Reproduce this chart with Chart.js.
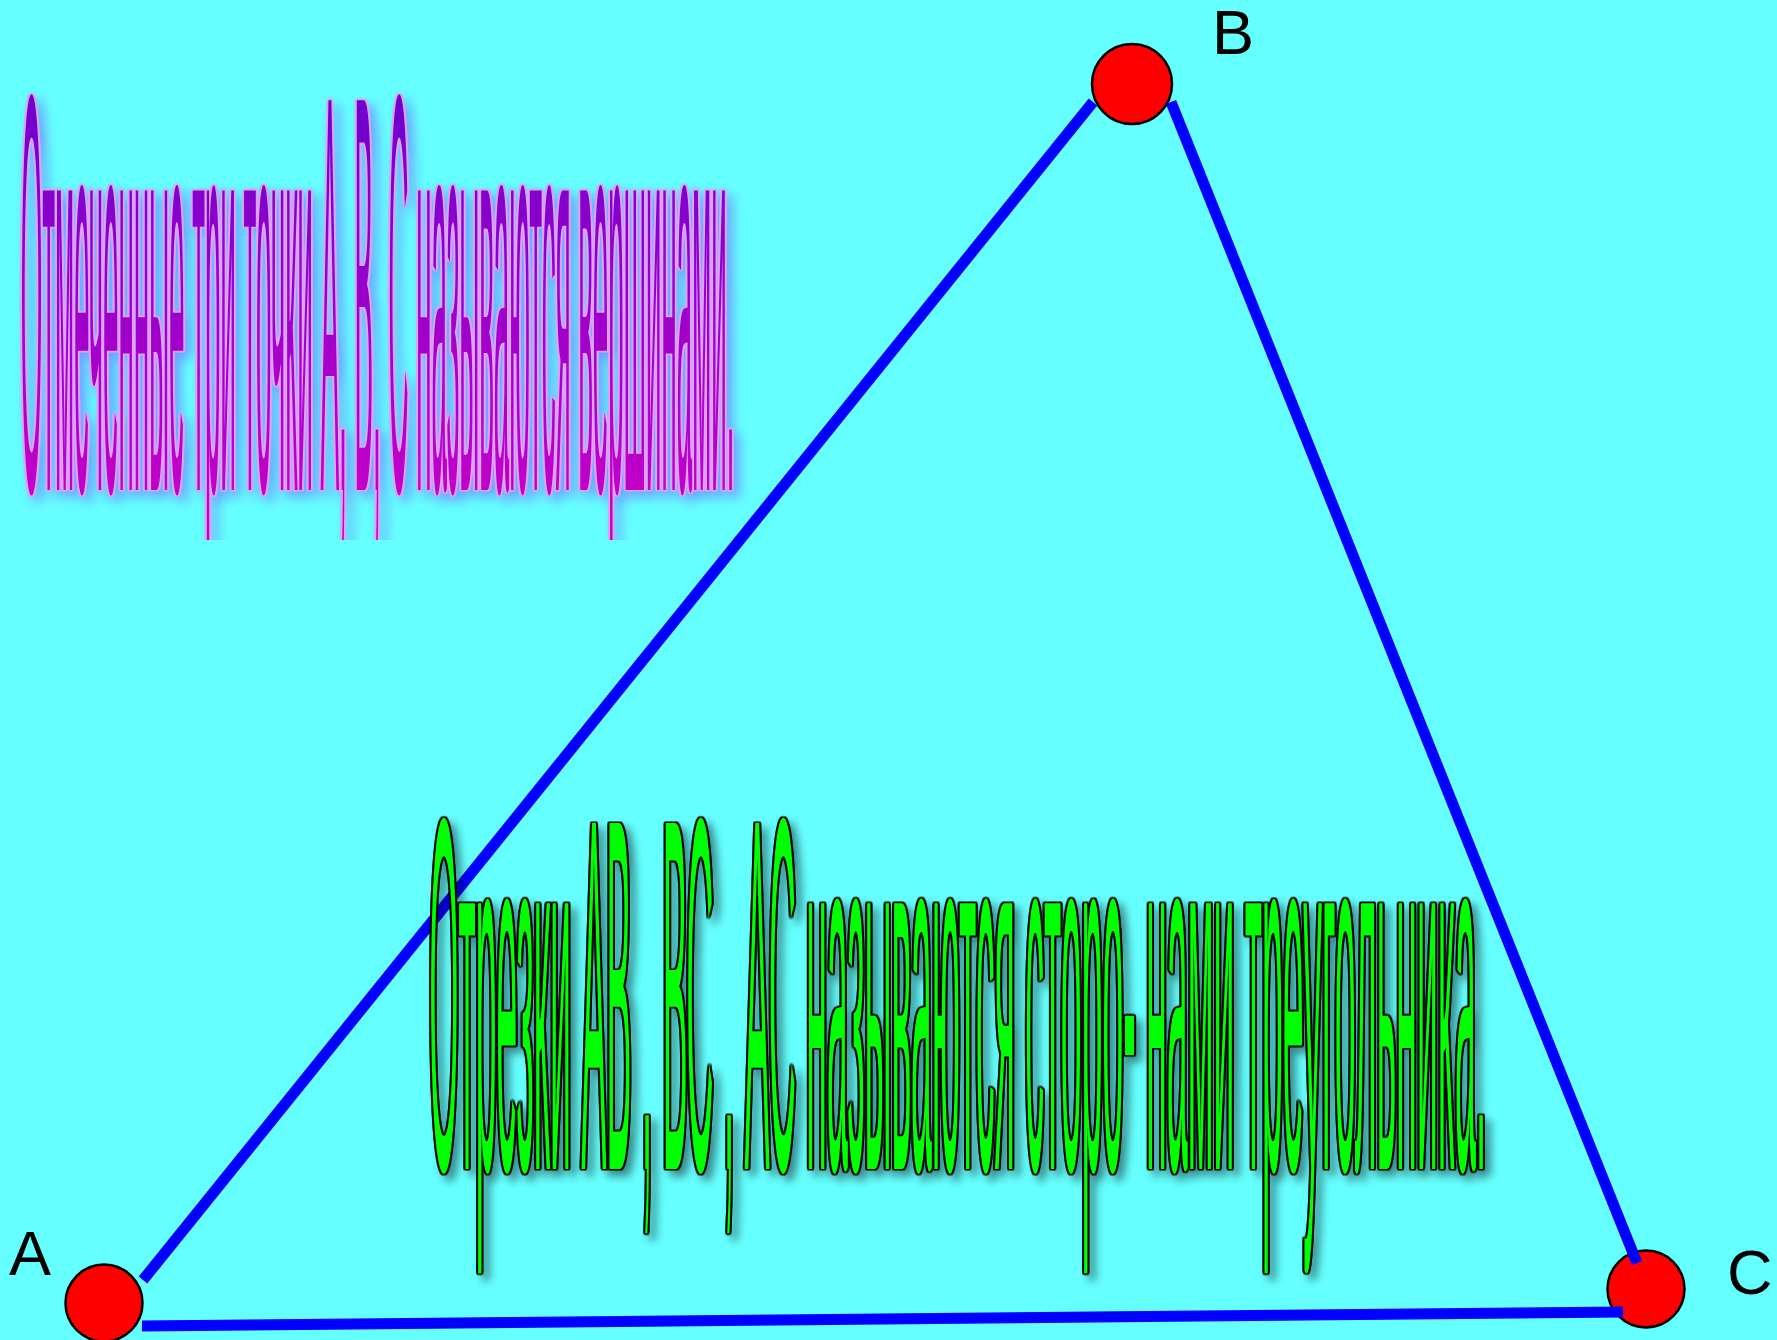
<!DOCTYPE html>
<html><head><meta charset="utf-8">
<script src="https://cdn.jsdelivr.net/npm/chart.js@4.4.1/dist/chart.umd.min.js"></script>
<style>
html,body{margin:0;padding:0;background:#66FFFF;overflow:hidden}
#wrap{width:1777px;height:1340px;position:relative}
</style>
</head><body><div id="wrap"><canvas id="c"></canvas></div>
<script>
// ---- data ----
const vertexNames = ['A', 'B', 'C'];
const vertexX = [104, 1132, 1646];
const vertexY = [1303, 84, 1289];
const sideNames = ['AB', 'BC', 'AC'];
const sideStartX = [143, 1171, 142];
const sideStartY = [1280, 102, 1326];
const sideEndX = [1093, 1637, 1623];
const sideEndY = [102, 1263, 1312];
const captionTop = 'Отмеченные три точки А, В, С называются вершинами.';
const captionBottom = 'Отрезки АВ , ВС , АС называются сторо- нами треугольника.';

// ---- styles ----
const vertexRadius = [38.5, 40, 38.5];
const labelOffsets = { A: [-95, -28], B: [80, -30], C: [81, 5] };
const captionTopBox = { left: 22, right: 732, capTop: 99, baseline: 490, descent: 50 };
const captionBottomBox = { left: 431, right: 1483, capTop: 822, baseline: 1169, descent: 0 };

const sideDatasets = sideNames.map((n, i) => ({
  type: 'line',
  label: n,
  data: [{ x: sideStartX[i], y: sideStartY[i] }, { x: sideEndX[i], y: sideEndY[i] }],
  borderColor: '#0000FF',
  borderWidth: 11,
  borderCapStyle: 'butt',
  pointRadius: 0,
  pointHoverRadius: 0,
  fill: false,
  clip: false,
  order: 1
}));

const vertexDataset = {
  type: 'scatter',
  label: 'vertices',
  data: vertexNames.map((n, i) => ({ x: vertexX[i], y: vertexY[i], name: n })),
  backgroundColor: '#FF0000',
  borderColor: '#000000',
  borderWidth: 2.5,
  pointRadius: vertexRadius,
  pointHoverRadius: vertexRadius,
  clip: false,
  order: 2
};

function drawStretched(ctx, text, box, st) {
  const F = 200;
  ctx.save();
  if (box.descent > 0) {
    // limit the descenders (the original WordArt squashes them)
    ctx.beginPath();
    ctx.rect(0, 0, ctx.canvas.width, box.baseline + box.descent);
    ctx.clip();
  }
  ctx.font = F + 'px "Liberation Sans", Arial, sans-serif';
  ctx.textAlign = 'left';
  ctx.textBaseline = 'alphabetic';
  const m = ctx.measureText(text);
  const inkW = m.actualBoundingBoxLeft + m.actualBoundingBoxRight;
  const cap = ctx.measureText('Н').actualBoundingBoxAscent;
  const sx = (box.right - box.left) / inkW;
  const sy = (box.baseline - box.capTop) / cap;
  ctx.filter = st.filter;
  ctx.translate(box.left + m.actualBoundingBoxLeft * sx, box.baseline);
  ctx.scale(sx, sy);
  if (st.gradient) {
    const g = ctx.createLinearGradient(0, -cap, 0, 0);
    st.gradient.forEach(([p, c]) => g.addColorStop(p, c));
    ctx.fillStyle = g;
  } else {
    ctx.fillStyle = st.fill;
  }
  ctx.fillText(text, 0, 0);
  ctx.restore();
}

const outline = (w, c) => `drop-shadow(${w}px 0 0 ${c}) drop-shadow(-${w}px 0 0 ${c}) drop-shadow(0 ${w}px 0 ${c}) drop-shadow(0 -${w}px 0 ${c})`;

const textPlugin = {
  id: 'texts',
  afterDatasetsDraw(chart) {
    const ctx = chart.ctx;
    const xs = chart.scales.x, ys = chart.scales.y;
    // vertex labels
    ctx.save();
    ctx.font = '63px "Liberation Sans", Arial, sans-serif';
    ctx.fillStyle = '#000000';
    ctx.textBaseline = 'alphabetic';
    vertexNames.forEach((n, i) => {
      const px = xs.getPixelForValue(vertexX[i]) + labelOffsets[n][0];
      const py = ys.getPixelForValue(vertexY[i]) + labelOffsets[n][1];
      ctx.fillText(n, px, py);
    });
    ctx.restore();
    // captions
    drawStretched(ctx, captionTop, captionTopBox, {
      gradient: [[0, '#7000CC'], [1, '#C200C8']],
      filter: outline(1.5, '#DCA4FF') + ' drop-shadow(6px 6px 6px rgba(110,110,255,0.65))'
    });
    drawStretched(ctx, captionBottom, captionBottomBox, {
      fill: '#00FF00',
      filter: outline(1.5, '#000000') + ' drop-shadow(6px 6px 4px rgba(0,0,0,0.45))'
    });
  }
};

new Chart(document.getElementById('c'), {
  data: { datasets: [...sideDatasets, vertexDataset] },
  options: {
    responsive: true,
    maintainAspectRatio: false,
    animation: false,
    events: [],
    layout: { padding: 0, autoPadding: false },
    scales: {
      x: { type: 'linear', min: 0, max: 1777, display: false },
      y: { type: 'linear', min: 0, max: 1340, reverse: true, display: false }
    },
    plugins: { legend: { display: false }, tooltip: { enabled: false } }
  },
  plugins: [textPlugin]
});
</script>
</body></html>
